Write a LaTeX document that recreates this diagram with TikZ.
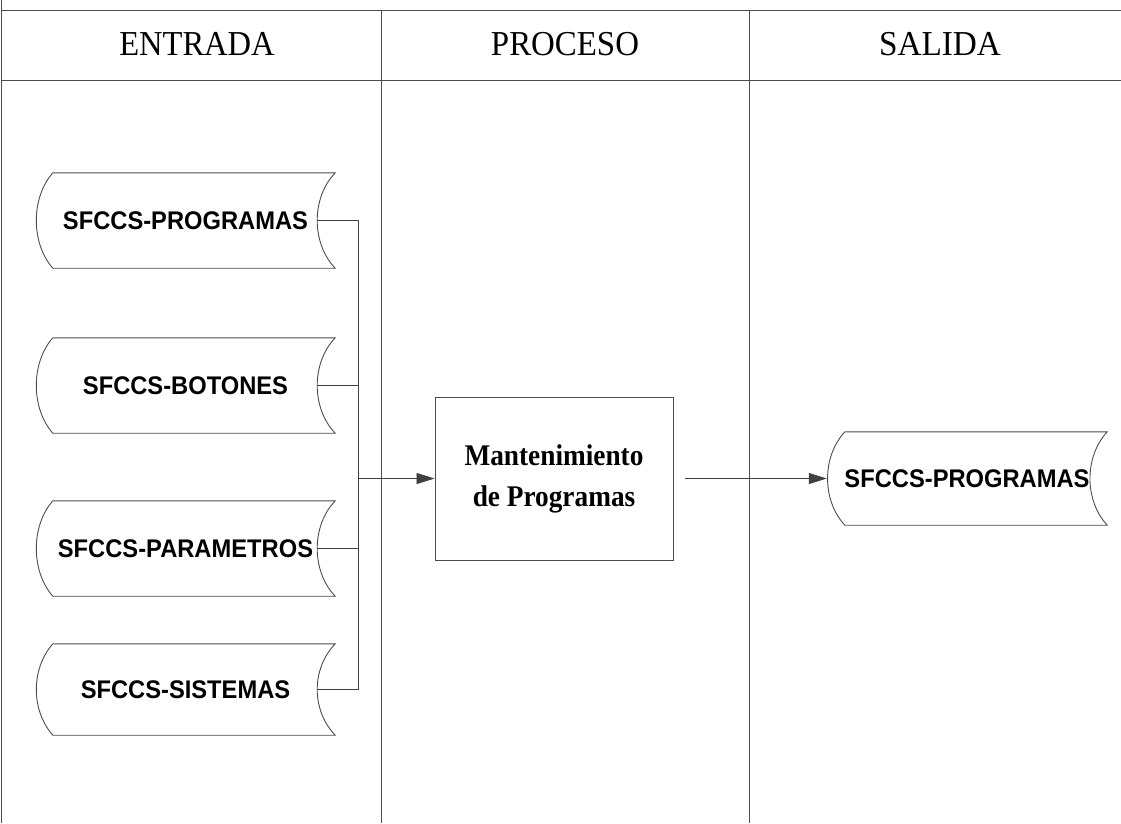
\documentclass[tikz,border=0pt]{standalone}
\usepackage{fontspec}
\usepackage{graphicx}
\setmainfont{Liberation Serif}
\setsansfont{Liberation Sans}
\usetikzlibrary{arrows.meta}
\newcommand\narrow[2]{\scalebox{#1}[1]{#2}}
\tikzset{
  frame/.style={draw=black!70, line width=0.9pt},
  outline/.style={draw=black!70, line width=0.9pt},
  conn/.style={draw=black!75, line width=0.8pt},
  arr/.style={conn, -{Triangle[length=18pt,width=11pt]}},
  header/.style={font=\fontsize{35}{38}\selectfont, inner sep=0pt, anchor=base},
  store/.style={inner sep=0pt, minimum width=299pt, minimum height=95pt,
    font=\sffamily\bfseries\fontsize{25.5}{28}\selectfont},
  procbox/.style={outline, inner sep=0pt, minimum width=238pt, minimum height=163pt,
    align=center, font=\bfseries\fontsize{30}{41}\selectfont}
}
\newcommand\storeoutline[3]{% node, left corner offset, right corner control offset
  \draw[outline] ([xshift=#2]#1.north west) -- (#1.north east)
    .. controls ([xshift=-#3,yshift=-25pt]#1.north east) and ([xshift=-#3,yshift=25pt]#1.south east) .. (#1.south east)
    -- ([xshift=#2]#1.south west)
    .. controls ([xshift=-5pt,yshift=25pt]#1.south west) and ([xshift=-5pt,yshift=-25pt]#1.north west) .. ([xshift=#2]#1.north west);}
\begin{document}
\begin{tikzpicture}[x=1pt,y=-1pt]
\useasboundingbox (0,0) rectangle (1121,823);
% swimlane frame
\draw[frame] (2,10) -- (1121,10);
\draw[frame] (2,80) -- (1121,80);
\draw[frame] (1.5,0) -- (1.5,823);
\draw[frame] (381,10) -- (381,823);
\draw[frame] (749,10) -- (749,823);
% headers
\node[header] (h1) at (197,55) {\narrow{0.93}{ENTRADA}};
\node[header] (h2) at (565,55) {\narrow{0.94}{PROCESO}};
\node[header] (h3) at (940,55) {\narrow{0.95}{SALIDA}};
% input stores
\node[store] (s1) at (185.5,220.5) {\narrow{0.93}{SFCCS-PROGRAMAS}};
\node[store] (s2) at (185.5,385.5) {\narrow{0.93}{SFCCS-BOTONES}};
\node[store] (s3) at (185.5,548.5) {\narrow{0.93}{SFCCS-PARAMETROS}};
\node[store, minimum height=91pt] (s4) at (185.5,689.5) {\narrow{0.93}{SFCCS-SISTEMAS}};
\storeoutline{s1}{17pt}{24pt}
\storeoutline{s2}{17pt}{24pt}
\storeoutline{s3}{17pt}{24pt}
\storeoutline{s4}{17pt}{24pt}
% process
\node[procbox] (proc) at (554,478.5) {\narrow{0.91}{Mantenimiento}\\\narrow{0.91}{de Programas}};
% output store
\node[store, minimum width=280pt, minimum height=93pt] (out) at (967,478.5) {\narrow{0.93}{SFCCS-PROGRAMAS}};
\storeoutline{out}{18pt}{23pt}
% connectors
\coordinate (c1) at ([xshift=-18pt]s1.east);
\coordinate (c2) at ([xshift=-18pt]s2.east);
\coordinate (c3) at ([xshift=-18pt]s3.east);
\coordinate (c4) at ([xshift=-18pt]s4.east);
\coordinate (j) at (358,478.5);
\draw[conn] (c1) -- (c1 -| j) -- (c4 -| j) -- (c4);
\draw[conn] (c2) -- (c2 -| j);
\draw[conn] (c3) -- (c3 -| j);
\draw[arr] (j) -- (proc.west);
\coordinate (pout) at ([xshift=12pt]proc.east);
\draw[arr] (pout) -- (out.west);
\end{tikzpicture}
\end{document}
